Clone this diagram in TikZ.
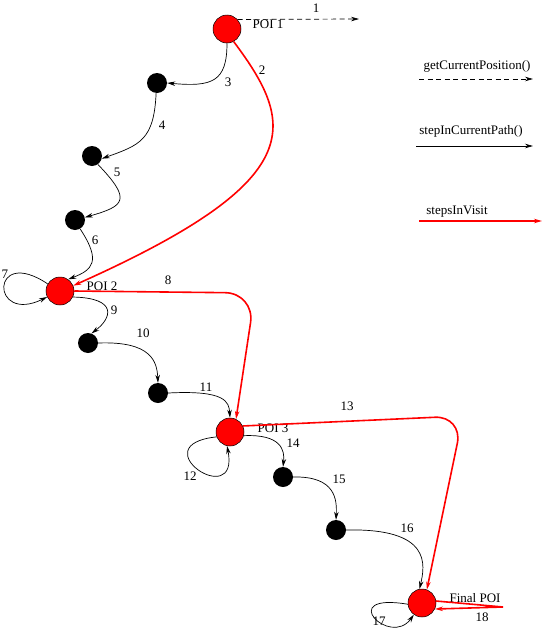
\documentclass[tikz,border=0pt]{standalone}
\usepackage{fontspec}
\setmainfont{Liberation Serif}
\usetikzlibrary{arrows.meta}
\begin{document}
\begin{tikzpicture}[x=1pt,y=-1pt,
  poi/.style={circle,fill=red,draw=black,line width=0.5pt,minimum size=28pt,inner sep=0pt},
  wp/.style={circle,fill=black,minimum size=20pt,inner sep=0pt},
  tip/.style={-{Stealth[length=8pt,width=4.5pt]}},
  bl/.style={tip,line width=0.7pt},
  rd/.style={tip,red,line width=1.6pt},
  dsh/.style={tip,line width=0.7pt,dash pattern=on 5pt off 3.5pt},
  lab/.style={font=\fontsize{13}{13}\selectfont,inner sep=0pt}]
\useasboundingbox (0,0) rectangle (545,632);
% nodes
\node[poi] (p1) at (227,29) {};
\node[wp] (n1) at (157,83) {};
\node[wp] (n2) at (92,156) {};
\node[wp] (n3) at (75,220) {};
\node[poi] (p2) at (60,291) {};
\node[wp] (n4) at (88,343) {};
\node[wp] (n5) at (158,393) {};
\node[poi] (p3) at (230,432) {};
\node[wp] (n6) at (283,477) {};
\node[wp] (n7) at (336,530) {};
\node[poi] (p4) at (422,603) {};
\coordinate (e1) at (359,19);
% labels
\node[lab] (lp1) at (268,24) {POI 1};
\node[lab] (lp2) at (102,286) {POI 2};
\node[lab] (lp3) at (273,428) {POI 3};
\node[lab] (lp4) at (475,598) {Final POI};
\node[lab] (l1) at (316,8) {1};
\node[lab] (l2) at (262,70) {2};
\node[lab] (l3) at (228,82) {3};
\node[lab] (l4) at (162,125) {4};
\node[lab] (l5) at (117,172) {5};
\node[lab] (l6) at (95,240) {6};
\node[lab] (l7) at (5,274) {7};
\node[lab] (l8) at (168,280) {8};
\node[lab] (l9) at (114,310) {9};
\node[lab] (l10) at (143,333) {10};
\node[lab] (l11) at (206,387) {11};
\node[lab] (l12) at (190,476) {12};
\node[lab] (l13) at (347,406) {13};
\node[lab] (l14) at (293,443) {14};
\node[lab] (l15) at (339,479) {15};
\node[lab] (l16) at (407,528) {16};
\node[lab] (l17) at (379,621) {17};
\node[lab] (l18) at (482,617) {18};
% legend
\node[lab] (g1) at (477,66) {getCurrentPosition()};
\node[lab] (g2) at (471,131) {stepInCurrentPath()};
\node[lab] (g3) at (457,212) {stepsInVisit};
\coordinate (a1) at (419,79); \coordinate (b1) at (533,79);
\coordinate (a2) at (416,146); \coordinate (b2) at (533,146);
\coordinate (a3) at (419,221); \coordinate (b3) at (542,221);
\draw[dsh] (a1) -- (b1);
\draw[bl] (a2) -- (b2);
\draw[rd] (a3) -- (b3);
% edges
\draw[dsh] (p1.42) -- (e1);
\draw[rd] (p1.-62) .. controls (296,125) and (310,180) .. (p2.22);
\draw[bl] (p1.south) .. controls (227,82) and (212,87) .. (n1.east);
\draw[bl] (n1.-95) .. controls (154,140) and (140,145) .. (n2.-15);
\draw[bl] (n2.-55) .. controls (132,200) and (125,206) .. (n3.15);
\draw[bl] (n3.-60) .. controls (102,262) and (92,270) .. (p2.55);
\draw[bl] (p2.150) .. controls (-10,245) and (-10,325) .. (p2.205);
\draw[rd,rounded corners=30pt] (p2.0) -- (255,293) -- (p3.65);
\draw[bl] (p2.-25) .. controls (118,298) and (112,318) .. (n4.70);
\draw[bl] (n4.0) .. controls (152,341) and (157,362) .. (n5.north);
\draw[bl] (n5.0) .. controls (226,390) and (229,402) .. (p3.north);
\draw[bl] (p3.200) .. controls (140,445) and (240,512) .. (p3.258);
\draw[rd,rounded corners=28pt] (p3.25) -- (463,416) -- (p4.70);
\draw[bl] (p3.-15) .. controls (281,434) and (285,450) .. (n6.north);
\draw[bl] (n6.0) .. controls (336,476) and (337,500) .. (n7.north);
\draw[bl] (n7.0) .. controls (432,528) and (425,565) .. (p4.100);
\draw[bl] (p4.185) .. controls (335,592) and (390,648) .. (p4.235);
\draw[rd] (p4.8) -- (503,607) -- (p4.-25);
\end{tikzpicture}
\end{document}
